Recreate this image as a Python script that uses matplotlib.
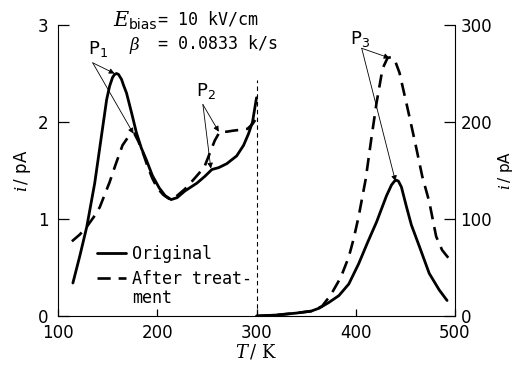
import matplotlib
matplotlib.use("Agg")
import matplotlib.pyplot as plt

plt.rcParams["font.family"] = ["DejaVu Sans"]
plt.rcParams["mathtext.fontset"] = "dejavuserif"

MONO = "DejaVu Sans Mono"

# left part (100-300 K), current in pA, left axis
t_orig_low = [115, 122, 129, 137, 143, 149, 152, 155, 157, 159, 161, 164, 166,
              169, 174, 179, 184, 189, 195, 202, 208, 214, 220, 228, 240, 248,
              255, 262, 270, 280, 287, 292, 296, 300]
i_orig_low = [0.34, 0.62, 0.92, 1.37, 1.80, 2.23, 2.37, 2.46, 2.49, 2.50, 2.49,
              2.44, 2.38, 2.30, 2.10, 1.89, 1.73, 1.61, 1.45, 1.32, 1.24, 1.20,
              1.22, 1.29, 1.37, 1.44, 1.51, 1.53, 1.57, 1.65, 1.76, 1.88, 2.00,
              2.25]

t_treat_low = [114, 122, 129, 136, 142, 147, 152, 158, 165, 171, 177, 181, 185,
               190, 195, 200, 206, 213, 220, 228, 236, 242, 248, 253, 258, 263,
               270, 276, 284, 291, 296, 300]
i_treat_low = [0.77, 0.84, 0.92, 1.02, 1.12, 1.25, 1.38, 1.56, 1.76, 1.85, 1.88,
               1.80, 1.70, 1.55, 1.42, 1.32, 1.25, 1.20, 1.24, 1.31, 1.40, 1.47,
               1.55, 1.68, 1.81, 1.90, 1.90, 1.91, 1.92, 1.93, 1.98, 2.04]

# right part (300-500 K), current in pA, right axis
t_orig_high = [300, 320, 340, 355, 363, 373, 383, 393, 403, 412, 421, 431, 436,
               439, 441, 443, 446, 451, 456, 464, 474, 484, 492]
i_orig_high = [0, 1, 3, 5, 8, 14, 21, 33, 54, 76, 97, 124, 135, 139, 140, 139,
               133, 113, 94, 72, 44, 27, 16]

t_treat_high = [300, 320, 340, 355, 366, 375, 385, 393, 398, 403, 410, 416, 421,
                427, 432, 436, 440, 444, 452, 460, 467, 474, 481, 487, 494]
i_treat_high = [0, 1, 3, 5, 10, 22, 40, 61, 80, 103, 141, 185, 220, 255, 266,
                267, 262, 251, 215, 178, 144, 118, 82, 68, 59]

x_ticks = [100, 200, 300, 400, 500]
left_ticks = [0, 1, 2, 3]
right_ticks = [0, 100, 200, 300]

W, H = 519, 367
fig = plt.figure(figsize=(W / 100, H / 100), dpi=100)
ax = fig.add_axes([58 / W, 1 - 316 / H, 397 / W, 291 / H])
ax2 = ax.twinx()

solid = dict(color="black", lw=2.0, solid_capstyle="round",
             solid_joinstyle="round")
dashed = dict(color="black", lw=1.9, linestyle=(0, (5, 3)))

ax.plot(t_orig_low, i_orig_low, **solid)
ax.plot(t_treat_low, i_treat_low, **dashed)
ax2.plot(t_orig_high, i_orig_high, **solid)
ax2.plot(t_treat_high, i_treat_high, **dashed)

ax.plot([300, 300], [0, 2.43], color="black", lw=0.8, linestyle=(0, (4, 3)))

ax.set_xlim(100, 500)
ax.set_ylim(0, 3)
ax2.set_ylim(0, 300)
ax.set_xticks(x_ticks)
ax.set_yticks(left_ticks)
ax2.set_yticks(right_ticks)

ax.tick_params(axis="x", direction="in", length=5, width=0.9, labelsize=12,
               pad=6)
ax.tick_params(axis="y", direction="in", length=8, width=0.9, labelsize=12,
               pad=7)
ax2.tick_params(axis="y", direction="in", length=8, width=0.9, labelsize=12,
                pad=4)
for a in (ax, ax2):
    a.spines["top"].set_visible(False)
ax.spines["right"].set_visible(False)
ax2.spines["left"].set_visible(False)
ax2.spines["bottom"].set_visible(False)

ax.set_xlabel(r"$T\,$/ K", fontsize=13, family="DejaVu Serif", labelpad=0)
ax.set_ylabel(r"$i\,$/ pA", fontsize=12, labelpad=3)
ax2.set_ylabel(r"$i\,$/ pA", fontsize=11, labelpad=3)

# annotations
arrow = dict(arrowstyle="-|>", color="black", lw=0.6, mutation_scale=8,
             shrinkA=0, shrinkB=0)
ax.text(130, 2.75, r"$\mathsf{P}_{\mathsf{1}}$", fontsize=13, ha="left", va="center")
ax.annotate("", xy=(157, 2.50), xytext=(135, 2.61), arrowprops=arrow)
ax.annotate("", xy=(176, 1.88), xytext=(135, 2.61), arrowprops=arrow)

ax.text(239, 2.32, r"$\mathsf{P}_{\mathsf{2}}$", fontsize=13, ha="left", va="center")
ax.annotate("", xy=(262, 1.90), xytext=(246, 2.18), arrowprops=arrow)
ax.annotate("", xy=(254, 1.52), xytext=(246, 2.18), arrowprops=arrow)

ax2.text(394, 286, r"$\mathsf{P}_{\mathsf{3}}$", fontsize=13, ha="left", va="center")
ax2.annotate("", xy=(434, 266), xytext=(406, 276), arrowprops=arrow)
ax2.annotate("", xy=(440, 139), xytext=(406, 276), arrowprops=arrow)

fig.text(113 / W, 1 - 20 / H, r"$E$", fontsize=15, va="center", ha="left")
fig.text(129 / W, 1 - 25 / H, "bias", fontsize=10, family="DejaVu Sans",
         va="center", ha="left")
fig.text(158 / W, 1 - 19 / H, "= 10 kV/cm", fontsize=12, family=MONO,
         va="center", ha="left")
fig.text(129 / W, 1 - 45 / H, r"$\beta$", fontsize=12, va="center", ha="left")
fig.text(158 / W, 1 - 44 / H, "= 0.0833 k/s", fontsize=12, family=MONO,
         va="center", ha="left")

leg = ax.legend(
    [ax.lines[0], ax.lines[1]],
    ["Original", "After treat-"],
    loc="lower left",
    bbox_to_anchor=(0.078, 0.067),
    frameon=False,
    prop={"family": MONO, "size": 12},
    handlelength=1.7,
    handletextpad=0.4,
    labelspacing=0.45,
    borderpad=0,
)
fig.text(132 / W, 1 - 298 / H, "ment", fontsize=12, family=MONO,
         va="center", ha="left")

fig.savefig("out.png", dpi=100, facecolor="white")
